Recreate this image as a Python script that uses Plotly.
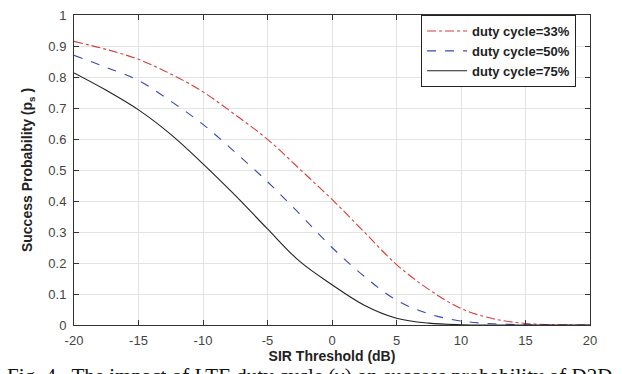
import plotly.graph_objects as go

sir_db = [-20, -17.5, -15, -12.5, -10, -7.5, -5, -2.5, 0, 2.5, 5, 7.5, 10, 12.5, 15, 17.5, 20]
ps_33 = [0.915, 0.889, 0.857, 0.81, 0.752, 0.678, 0.599, 0.503, 0.405, 0.30, 0.195, 0.115, 0.053, 0.02, 0.005, 0.001, 0.0]
ps_50 = [0.870, 0.831, 0.789, 0.722, 0.647, 0.557, 0.462, 0.358, 0.25, 0.157, 0.08, 0.036, 0.013, 0.004, 0.001, 0.0, 0.0]
ps_75 = [0.813, 0.757, 0.694, 0.615, 0.52, 0.418, 0.31, 0.205, 0.13, 0.064, 0.022, 0.006, 0.001, 0.0, 0.0, 0.0, 0.0]
labels = ["duty cycle=33%", "duty cycle=50%", "duty cycle=75%"]
x_ticks = [-20, -15, -10, -5, 0, 5, 10, 15, 20]
x_tick_text = ["-20", "-15", "-10", "-5", "0", "5", "10", "15", "20"]
y_ticks = [0, 0.1, 0.2, 0.3, 0.4, 0.5, 0.6, 0.7, 0.8, 0.9, 1]
y_tick_text = ["0", "0.1", "0.2", "0.3", "0.4", "0.5", "0.6", "0.7", "0.8", "0.9", "1"]
caption = "Fig. 4.  The impact of LTE duty cycle (\u03b3) on success probability of D2D"

fig = go.Figure()
styles = [("#d93b3b", "dashdot"), ("#3a48b5", "dash"), ("#222222", "solid")]
for ys, lab, (col, dash) in zip([ps_33, ps_50, ps_75], labels, styles):
    fig.add_trace(go.Scatter(x=sir_db, y=ys, mode="lines", name="<b>" + lab + "</b>",
                             line=dict(color=col, dash=dash, width=1.1, shape="spline", smoothing=1.0)))

axis_common = dict(showline=True, linecolor="#333333", linewidth=1, mirror="allticks",
                   ticks="inside", ticklen=5, tickcolor="#333333",
                   showgrid=True, gridcolor="#e3e3e3", gridwidth=1, zeroline=False,
                   tickfont=dict(family="Liberation Sans, Arial", size=13, color="#444444"))

fig.update_xaxes(range=[-20, 20], tickvals=x_ticks, ticktext=x_tick_text, ticklabelstandoff=3,
                 **axis_common,
                 title=dict(text="<b>SIR Threshold (dB)</b>", standoff=3,
                            font=dict(family="Liberation Sans, Arial", size=14, color="#222222")))
fig.update_yaxes(range=[0, 1], tickvals=y_ticks, ticktext=y_tick_text, ticklabelstandoff=4,
                 **axis_common,
                 title=dict(text="<b>Success Probability (p<sub>s</sub> )</b>", standoff=12,
                            font=dict(family="Liberation Sans, Arial", size=14, color="#222222")))

fig.update_layout(
    width=622, height=374,
    margin=dict(l=74, r=32, t=8, b=49),
    paper_bgcolor="white", plot_bgcolor="white",
    showlegend=True,
    legend=dict(x=0.973, y=1.0, xanchor="right", yanchor="top",
                bgcolor="white", bordercolor="#222222", borderwidth=1,
                font=dict(family="Liberation Sans, Arial", size=13, color="#222222"),
                tracegroupgap=0, itemwidth=40),
    annotations=[dict(text=caption, xref="paper", yref="paper", x=0.457, y=-0.12,
                      xanchor="center", yanchor="top", showarrow=False,
                      font=dict(family="Liberation Serif, Times New Roman", size=21, color="#111111"))],
)

fig.write_html("out.html")
